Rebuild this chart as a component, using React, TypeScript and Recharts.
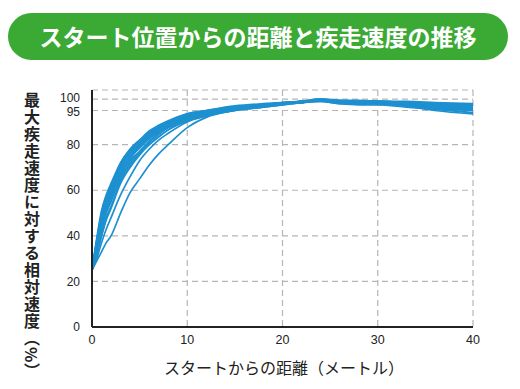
import React from "react";
import { LineChart, Line, XAxis, YAxis, CartesianGrid } from "recharts";

const distances = [0, 0.5, 1, 1.5, 2, 3, 4, 5, 6, 7, 8, 10, 12, 15, 18, 20, 22, 24, 26, 28, 30, 33, 36, 40];

const s1 = [25, 38, 50, 57, 62, 71, 77, 81, 85, 88, 90, 93.5, 95, 96.5, 97.5, 98.5, 99, 100, 99.5, 99, 99, 98.5, 98, 97];
const s2 = [25, 36, 47, 55, 60, 70, 76, 80, 84, 87, 89, 92, 94, 96, 97.5, 98, 99, 99.5, 99, 98.5, 98.5, 98, 97, 96];
const s3 = [25, 35, 45, 52, 58, 68, 74, 79, 83, 86, 88, 91.5, 93.5, 95.5, 97, 98, 98.5, 99.5, 99, 99, 98.5, 97.5, 96.5, 95];
const s4 = [25, 33, 42, 50, 55, 66, 73, 77, 81, 84.5, 87.5, 91, 93, 95.5, 97, 98, 98.5, 99.5, 98.5, 98, 98, 97, 96, 94];
const s5 = [25, 39, 51, 58, 63, 72, 78, 82, 86, 88.5, 90.5, 93.5, 95, 97, 98, 98.5, 99, 100, 99, 99, 99, 99, 98.5, 98];
const s6 = [25, 32, 40, 48, 53, 64, 71, 76, 80, 83.5, 86.5, 90.5, 93, 95, 96.5, 97.5, 98.5, 99, 98, 98, 98.5, 98, 97, 95.5];
const s7 = [25, 35, 46, 54, 59, 69, 75, 79.5, 83.5, 86.5, 88.5, 92, 94, 96, 97.5, 98.5, 99, 99.5, 98.5, 98, 98, 97, 95, 93.5];
const s8 = [25, 29, 33, 37, 40, 50, 59, 65, 71, 76, 80, 87.5, 92, 95, 97, 98, 98.5, 99.5, 98.5, 98, 98, 97.5, 96.5, 95];
const s9 = [25, 32, 40, 47, 52, 63, 70, 75.5, 80, 83.5, 86.5, 90.5, 93, 95.5, 97, 98, 98.5, 99.5, 99, 98.5, 98, 97, 96, 95];
const s10 = [25, 37, 48, 56, 61, 71, 77, 81, 85, 87.5, 89.5, 92.5, 94.5, 96.5, 97.5, 98, 99, 99.5, 99, 99, 99, 98.5, 97.5, 96.5];
const s11 = [25, 38, 49, 57, 62, 72, 78, 82, 85.5, 88, 90, 93, 94.5, 96, 97, 98, 99, 100, 99.5, 99.5, 99, 98.5, 98, 97.5];
const s12 = [25, 34, 44, 52, 57, 67, 74, 78.5, 82.5, 85.5, 88, 91.5, 93.5, 95.5, 97, 98, 98.5, 99, 98, 97.5, 97.5, 96.5, 95.5, 94];
const s13 = [25, 30, 37, 43, 48, 58, 66, 73, 78, 82, 85, 90, 92.5, 95, 96.5, 97.5, 98.5, 99.5, 99, 98.5, 98.5, 98, 97, 96.5];
const s14 = [25, 37, 49, 56, 61, 70, 76, 80.5, 84.5, 87, 89.5, 92.5, 94, 96, 97, 98, 98.5, 99.5, 99, 99, 98.5, 98, 96.5, 95.5];
const s15 = [25, 33, 43, 51, 56, 65, 72, 77, 81.5, 85, 87.5, 91, 93.5, 95.5, 97, 98, 99, 99.5, 99, 98.5, 99, 98.5, 97.5, 97];

const seriesList = [s1, s2, s3, s4, s5, s6, s7, s8, s9, s10, s11, s12, s13, s14, s15];

const xTicks = [0, 10, 20, 30, 40];
const yTicks = [0, 20, 40, 60, 80, 95, 100];

const titleText = "スタート位置からの距離と疾走速度の推移";
const yLabel = "最大疾走速度に対する相対速度（%）";
const xLabel = "スタートからの距離（メートル）";

const data = distances.map((d, i) => {
  const row: Record<string, number> = { d };
  seriesList.forEach((s, j) => {
    row["s" + j] = s[i];
  });
  return row;
});

const LINE_COLOR = "#1d90d0";
const FONT = "Liberation Sans, Arial, sans-serif";
const tickStyle = { fontSize: 12.5, fill: "#222", fontFamily: FONT };

const YTick = (props: any) => {
  const { x, y, payload } = props;
  const v = payload.value;
  const shift = v === 100 ? -1.5 : v === 95 ? 1.5 : 0;
  return (
    <text x={x} y={y + shift} dy="0.35em" textAnchor="end" fontSize={12} fill="#222" fontFamily={FONT}>
      {v}
    </text>
  );
};

export default function App() {
  return (
    <div style={{ position: "absolute", left: 0, top: 0, width: 520, height: 389, background: "#fff", overflow: "hidden" }}>
      <div
        style={{
          position: "absolute",
          left: 8,
          top: 13,
          width: 500,
          height: 47,
          borderRadius: 24,
          background: "#3aaa35",
          color: "#fff",
          fontFamily: "Noto Sans CJK JP, sans-serif",
          fontWeight: 700,
          fontSize: 23,
          lineHeight: "47px",
          textAlign: "center",
          letterSpacing: 0,
        }}
      >
        {titleText}
      </div>
      <div
        style={{
          position: "absolute",
          left: 22,
          top: 92,
          writingMode: "vertical-rl",
          fontFamily: "Noto Sans CJK JP, sans-serif",
          fontWeight: 700,
          fontSize: 16,
          color: "#222",
          lineHeight: "20px",
          letterSpacing: 1,
          whiteSpace: "nowrap",
        }}
      >
        {yLabel}
      </div>
      <div
        style={{
          position: "absolute",
          left: 0,
          width: 568,
          top: 356,
          textAlign: "center",
          fontFamily: "Noto Sans CJK JP, sans-serif",
          fontSize: 16,
          color: "#222",
          lineHeight: "22px",
        }}
      >
        {xLabel}
      </div>
      <div style={{ position: "absolute", left: 0, top: 0 }}>
        <LineChart width={520} height={389} data={data} margin={{ top: 90, right: 47, bottom: 42, left: 62 }}>
          <CartesianGrid stroke="#b5b5b5" strokeDasharray="6 4" strokeWidth={1.2} />
          <XAxis
            dataKey="d"
            type="number"
            domain={[0, 40]}
            ticks={xTicks}
            tickLine={false}
            axisLine={{ stroke: "#222", strokeWidth: 2 }}
            tick={tickStyle}
            tickMargin={2}
            height={20}
            interval={0}
          />
          <YAxis
            type="number"
            domain={[0, 104]}
            ticks={yTicks}
            tickLine={false}
            axisLine={{ stroke: "#222", strokeWidth: 2 }}
            tick={<YTick />}
            tickMargin={6}
            width={30}
            interval={0}
          />
          {seriesList.map((_, j) => (
            <Line
              key={j}
              dataKey={"s" + j}
              type="monotone"
              stroke={LINE_COLOR}
              strokeWidth={1.7}
              dot={false}
              isAnimationActive={false}
            />
          ))}
        </LineChart>
      </div>
    </div>
  );
}
